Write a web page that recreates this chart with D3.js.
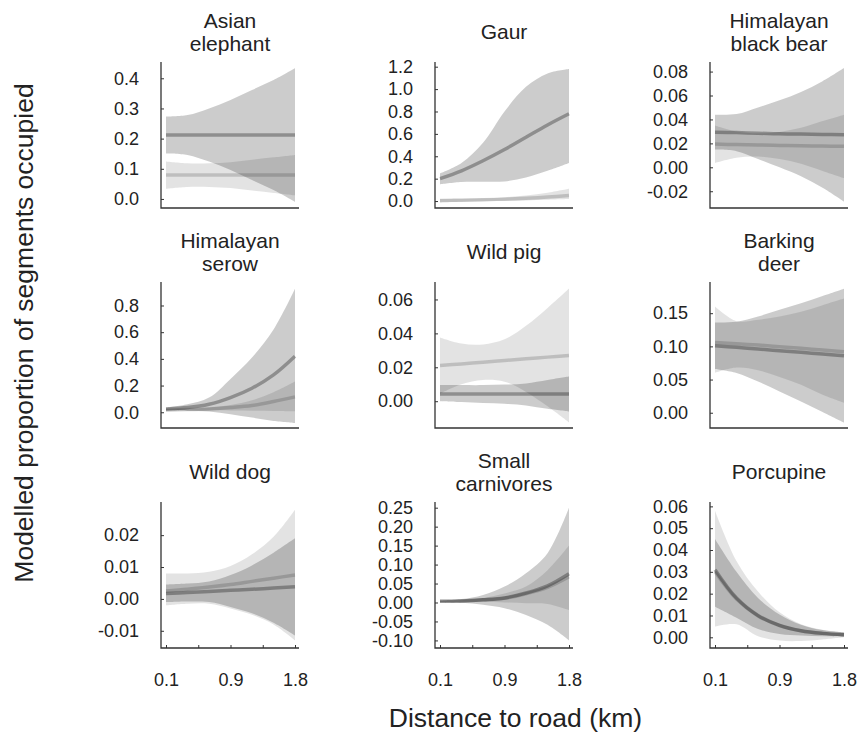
<!DOCTYPE html>
<html>
<head>
<meta charset="utf-8">
<script src="https://cdn.jsdelivr.net/npm/d3@7"></script>
<style>
  body { margin: 0; background: #fff; }
  text { font-family: "Liberation Sans", Arial, Helvetica, sans-serif; fill: #222; }
</style>
</head>
<body>
<script>
// distance to road (km) at which the model curves were read
var distance = [0.1, 0.383, 0.667, 0.95, 1.233, 1.517, 1.8];
var xTickValues = [0.1, 0.525, 0.95, 1.375, 1.8];
var xTickLabels = ["0.1", "", "0.9", "", "1.8"];

var titles = [["Asian", "elephant"], ["Gaur"], ["Himalayan", "black bear"],
              ["Himalayan", "serow"], ["Wild pig"], ["Barking", "deer"],
              ["Wild dog"], ["Small", "carnivores"], ["Porcupine"]];

var yTicks = [
  [0, 0.1, 0.2, 0.3, 0.4],
  [0, 0.2, 0.4, 0.6, 0.8, 1.0, 1.2],
  [-0.02, 0, 0.02, 0.04, 0.06, 0.08],
  [0, 0.2, 0.4, 0.6, 0.8],
  [0, 0.02, 0.04, 0.06],
  [0, 0.05, 0.1, 0.15],
  [-0.01, 0, 0.01, 0.02],
  [-0.1, -0.05, 0, 0.05, 0.1, 0.15, 0.2, 0.25],
  [0, 0.01, 0.02, 0.03, 0.04, 0.05, 0.06]
];
var yDecimals = [1, 1, 2, 1, 2, 2, 2, 2, 2];
var yLims = [[-0.030, 0.454], [-0.062, 1.242], [-0.034, 0.088],
             [-0.118, 0.976], [-0.0158, 0.0703], [-0.023, 0.197],
             [-0.0154, 0.0304], [-0.120, 0.265], [-0.0049, 0.062]];

// two groups per species: A (light band) and B (darker band)
var elephantA = { mean: [0.079, 0.079, 0.079, 0.079, 0.079, 0.079, 0.079],
                  lo:   [0.034, 0.040, 0.040, 0.036, 0.028, 0.020, 0.012],
                  hi:   [0.124, 0.118, 0.118, 0.122, 0.130, 0.138, 0.146] };
var elephantB = { mean: [0.212, 0.212, 0.212, 0.212, 0.212, 0.212, 0.212],
                  lo:   [0.151, 0.146, 0.124, 0.096, 0.063, 0.030, -0.009],
                  hi:   [0.273, 0.278, 0.300, 0.328, 0.361, 0.394, 0.433] };

var gaurA = { mean: [0.005, 0.008, 0.012, 0.017, 0.025, 0.036, 0.050],
              lo:   [-0.012, -0.006, -0.002, 0.002, 0.006, 0.012, 0.018],
              hi:   [0.018, 0.020, 0.025, 0.035, 0.050, 0.075, 0.110] };
var gaurB = { mean: [0.20, 0.27, 0.36, 0.46, 0.57, 0.68, 0.78],
              lo:   [0.150, 0.170, 0.172, 0.175, 0.210, 0.270, 0.340],
              hi:   [0.247, 0.340, 0.520, 0.800, 1.020, 1.140, 1.180] };

var bearA = { mean: [0.0194, 0.019, 0.0187, 0.0183, 0.018, 0.0178, 0.0175],
              lo:   [0.0036, 0.008, 0.009, 0.007, 0.003, -0.003, -0.009],
              hi:   [0.035, 0.030, 0.0285, 0.0296, 0.033, 0.0386, 0.044] };
var bearB = { mean: [0.0294, 0.029, 0.0285, 0.028, 0.0278, 0.0275, 0.0272],
              lo:   [0.0148, 0.0135, 0.007, 0.0, -0.0074, -0.017, -0.0286],
              hi:   [0.044, 0.0445, 0.050, 0.056, 0.063, 0.072, 0.083] };

var serowA = { mean: [0.015, 0.020, 0.025, 0.035, 0.050, 0.080, 0.115],
               lo:   [0.010, 0.012, 0.014, 0.014, 0.012, 0.010, 0.008],
               hi:   [0.020, 0.025, 0.035, 0.055, 0.090, 0.150, 0.230] };
var serowB = { mean: [0.025, 0.035, 0.060, 0.110, 0.180, 0.280, 0.420],
               lo:   [0.015, 0.012, 0.005, -0.015, -0.040, -0.065, -0.080],
               hi:   [0.035, 0.060, 0.110, 0.250, 0.410, 0.620, 0.926] };

var pigA = { mean: [0.021, 0.022, 0.023, 0.024, 0.025, 0.026, 0.027],
             lo:   [0.0044, 0.010, 0.0125, 0.0115, 0.0055, -0.003, -0.0125],
             hi:   [0.0376, 0.034, 0.0335, 0.0365, 0.0445, 0.055, 0.0665] };
var pigB = { mean: [0.0042, 0.0042, 0.0042, 0.0042, 0.0042, 0.0042, 0.0042],
             lo:   [0.0, -0.0005, -0.001, -0.0015, -0.0025, -0.0045, -0.0061],
             hi:   [0.0095, 0.0095, 0.0095, 0.0098, 0.0105, 0.0125, 0.0145] };

var deerA = { mean: [0.106, 0.104, 0.102, 0.0995, 0.097, 0.0945, 0.092],
              lo:   [0.060, 0.068, 0.064, 0.054, 0.042, 0.027, 0.015],
              hi:   [0.160, 0.138, 0.140, 0.145, 0.152, 0.162, 0.172] };
var deerB = { mean: [0.101, 0.0985, 0.096, 0.0935, 0.091, 0.0885, 0.086],
              lo:   [0.066, 0.060, 0.047, 0.032, 0.017, 0.001, -0.015],
              hi:   [0.136, 0.137, 0.145, 0.155, 0.165, 0.176, 0.187] };

var dogA = { mean: [0.0025, 0.003, 0.0037, 0.0045, 0.0055, 0.0065, 0.0075],
             lo:   [-0.002, -0.0015, -0.0015, -0.003, -0.005, -0.008, -0.013],
             hi:   [0.008, 0.008, 0.0085, 0.0103, 0.014, 0.0195, 0.028] };
var dogB = { mean: [0.0017, 0.002, 0.0023, 0.0027, 0.003, 0.0034, 0.0038],
             lo:   [-0.001, -0.0008, -0.001, -0.0025, -0.0045, -0.0075, -0.0115],
             hi:   [0.0045, 0.0048, 0.0055, 0.0075, 0.0105, 0.0145, 0.019] };

var carnA = { mean: [0.003, 0.004, 0.007, 0.011, 0.023, 0.040, 0.068],
              lo:   [0.002, 0.002, 0.002, 0.0, -0.002, -0.004, -0.020],
              hi:   [0.004, 0.006, 0.012, 0.024, 0.042, 0.085, 0.150] };
var carnB = { mean: [0.003, 0.004, 0.007, 0.012, 0.025, 0.044, 0.076],
              lo:   [0.001, -0.001, -0.006, -0.015, -0.033, -0.059, -0.100],
              hi:   [0.005, 0.009, 0.020, 0.042, 0.077, 0.130, 0.250] };

var porcA = { mean: [0.030, 0.0175, 0.0098, 0.0054, 0.003, 0.0018, 0.0012],
              lo:   [0.005, 0.006, 0.0005, -0.0015, -0.0017, -0.001, 0.0],
              hi:   [0.058, 0.035, 0.021, 0.0115, 0.006, 0.0035, 0.0023] };
var porcB = { mean: [0.031, 0.018, 0.010, 0.0055, 0.003, 0.0018, 0.0012],
              lo:   [0.014, 0.009, 0.0038, 0.0015, 0.0008, 0.0005, 0.0003],
              hi:   [0.045, 0.030, 0.018, 0.0105, 0.0058, 0.0033, 0.0022] };

var panelSeries = [[elephantA, elephantB], [gaurA, gaurB], [bearA, bearB],
                   [serowA, serowB], [pigA, pigB], [deerA, deerB],
                   [dogA, dogB], [carnA, carnB], [porcA, porcB]];

var bandOpacity = [0.11, 0.2];
var lineOpacity = [0.16, 0.3];

var colX = [161, 435, 710], rowY = [62, 282, 502];
var plotW = 138, plotH = 146;
var curve = d3.curveCatmullRom.alpha(0.5);

var svg = d3.select("body").append("svg")
    .attr("width", 859).attr("height", 736);

titles.forEach(function (title, i) {
    var c = i % 3, r = Math.floor(i / 3);
    var x0 = colX[c], y0 = rowY[r];
    var g = svg.append("g");

    var x = d3.scaleLinear().domain([0.1, 1.8]).range([x0 + 5, x0 + 134]);
    var y = d3.scaleLinear().domain(yLims[i]).range([y0 + plotH, y0]);

    panelSeries[i].forEach(function (s, k) {
        var pts = distance.map(function (d, j) {
            return { d: d, lo: s.lo[j], hi: s.hi[j] };
        });
        g.append("path")
            .attr("d", d3.area().curve(curve)
                .x(function (p) { return x(p.d); })
                .y0(function (p) { return y(p.lo); })
                .y1(function (p) { return y(p.hi); })(pts))
            .attr("fill", "#000").attr("fill-opacity", bandOpacity[k]);
    });
    panelSeries[i].forEach(function (s, k) {
        var pts = distance.map(function (d, j) { return { d: d, m: s.mean[j] }; });
        g.append("path")
            .attr("d", d3.line().curve(curve)
                .x(function (p) { return x(p.d); })
                .y(function (p) { return y(p.m); })(pts))
            .attr("fill", "none").attr("stroke", "#000")
            .attr("stroke-opacity", lineOpacity[k]).attr("stroke-width", 3.5);
    });

    // L-shaped frame
    g.append("path")
        .attr("d", "M" + x0 + "," + y0 + "V" + (y0 + plotH) + "H" + (x0 + plotW))
        .attr("fill", "none").attr("stroke", "#333").attr("stroke-width", 1.3);

    var fmt = d3.format("." + yDecimals[i] + "f");
    var yAxis = g.append("g")
        .attr("transform", "translate(" + x0 + ",0)")
        .call(d3.axisLeft(y).tickValues(yTicks[i])
            .tickFormat(function (d) { return fmt(d).replace("\u2212", "-"); })
            .tickSizeInner(-3).tickSizeOuter(0).tickPadding(22));
    yAxis.select(".domain").remove();
    yAxis.selectAll("line").attr("stroke", "#333");
    yAxis.selectAll("text").attr("font-size", 18)
        .attr("font-family", "Liberation Sans, Arial, sans-serif").attr("fill", "#222");

    if (r === 2) {
        var xAxis = g.append("g")
            .attr("transform", "translate(0," + (y0 + plotH) + ")")
            .call(d3.axisBottom(x).tickValues(xTickValues)
                .tickFormat(function (d, j) { return xTickLabels[j]; })
                .tickSizeInner(-3).tickSizeOuter(0).tickPadding(25));
        xAxis.select(".domain").remove();
        xAxis.selectAll("line").attr("stroke", "#333");
        xAxis.selectAll("text").attr("font-size", 18)
            .attr("font-family", "Liberation Sans, Arial, sans-serif").attr("fill", "#222");
    }

    var cx = x0 + plotW / 2;
    var baselines = title.length === 2 ? [y0 - 34, y0 - 11] : [y0 - 23];
    title.forEach(function (t, j) {
        g.append("text").attr("x", cx).attr("y", baselines[j])
            .attr("text-anchor", "middle").attr("font-size", 21).text(t);
    });
});

svg.append("text")
    .attr("transform", "translate(33,333) rotate(-90)")
    .attr("text-anchor", "middle").attr("font-size", 26.5)
    .text("Modelled proportion of segments occupied");

svg.append("text")
    .attr("x", 515.5).attr("y", 727)
    .attr("text-anchor", "middle").attr("font-size", 26.5)
    .text("Distance to road (km)");
</script>
</body>
</html>
